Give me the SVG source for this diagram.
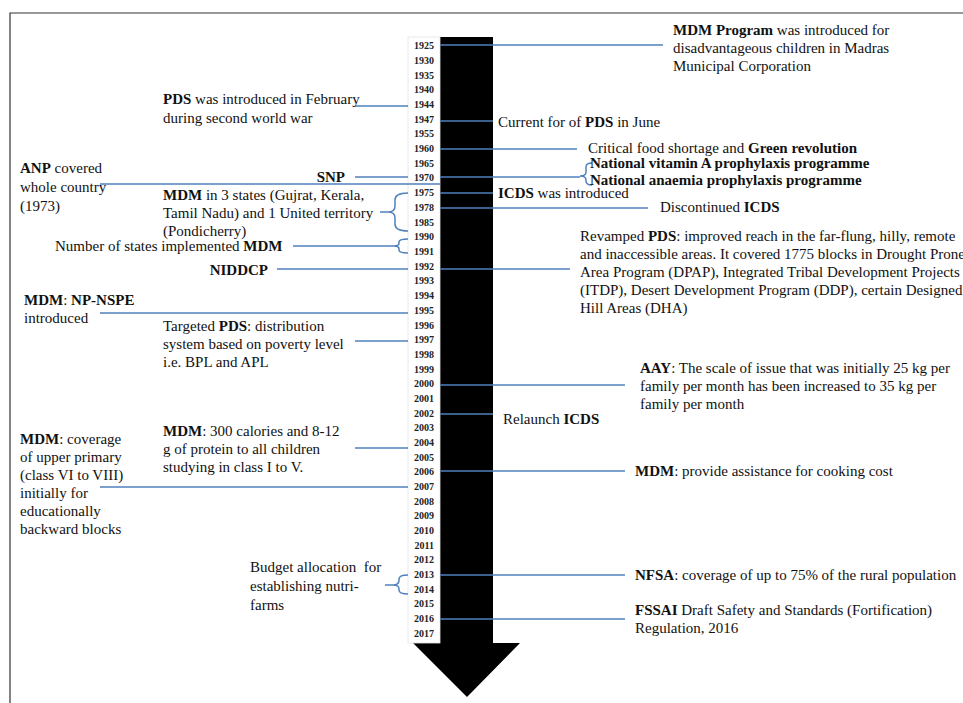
<svg xmlns="http://www.w3.org/2000/svg" width="963" height="703" viewBox="0 0 963 703">
<style>
text{font-family:"Liberation Serif","Times New Roman",serif;font-size:15px;fill:#111}
.b{font-weight:bold}
.yr{font-size:10px;font-weight:bold;text-anchor:end;fill:#222}
.c{stroke:#4f81bd;stroke-width:1.5;fill:none}
</style>
<rect width="963" height="703" fill="#fff"/>
<path d="M10,703 V13 H963" fill="none" stroke="#333" stroke-width="1.2"/>
<g id="arrow">
<polygon points="440,37 493,37 493,643 520,643 467,697 413,643 440,643" fill="#000"/>
<rect x="408" y="37" width="32" height="606" fill="#fff" stroke="#e4e4e4" stroke-width="0.8"/>
</g>
<g id="years">
<text class="yr" x="434" y="49">1925</text>
<text class="yr" x="434" y="64">1930</text>
<text class="yr" x="434" y="79">1935</text>
<text class="yr" x="434" y="93">1940</text>
<text class="yr" x="434" y="108">1944</text>
<text class="yr" x="434" y="123">1947</text>
<text class="yr" x="434" y="137">1955</text>
<text class="yr" x="434" y="152">1960</text>
<text class="yr" x="434" y="167">1965</text>
<text class="yr" x="434" y="181">1970</text>
<text class="yr" x="434" y="196">1975</text>
<text class="yr" x="434" y="211">1978</text>
<text class="yr" x="434" y="226">1985</text>
<text class="yr" x="434" y="240">1990</text>
<text class="yr" x="434" y="255">1991</text>
<text class="yr" x="434" y="270">1992</text>
<text class="yr" x="434" y="284">1993</text>
<text class="yr" x="434" y="299">1994</text>
<text class="yr" x="434" y="314">1995</text>
<text class="yr" x="434" y="329">1996</text>
<text class="yr" x="434" y="343">1997</text>
<text class="yr" x="434" y="358">1998</text>
<text class="yr" x="434" y="373">1999</text>
<text class="yr" x="434" y="387">2000</text>
<text class="yr" x="434" y="402">2001</text>
<text class="yr" x="434" y="417">2002</text>
<text class="yr" x="434" y="431">2003</text>
<text class="yr" x="434" y="446">2004</text>
<text class="yr" x="434" y="461">2005</text>
<text class="yr" x="434" y="475">2006</text>
<text class="yr" x="434" y="490">2007</text>
<text class="yr" x="434" y="505">2008</text>
<text class="yr" x="434" y="519">2009</text>
<text class="yr" x="434" y="534">2010</text>
<text class="yr" x="434" y="549">2011</text>
<text class="yr" x="434" y="563">2012</text>
<text class="yr" x="434" y="578">2013</text>
<text class="yr" x="434" y="593">2014</text>
<text class="yr" x="434" y="607">2015</text>
<text class="yr" x="434" y="622">2016</text>
<text class="yr" x="434" y="637">2017</text>
</g>
<g id="connectors">
<line class="c" x1="440" y1="45" x2="663" y2="45"/>
<line class="c" x1="355" y1="106" x2="408" y2="106"/>
<line class="c" x1="440" y1="121" x2="493" y2="121"/>
<line class="c" x1="440" y1="149" x2="577" y2="149"/>
<line class="c" x1="355" y1="177" x2="408" y2="177"/>
<line class="c" x1="440" y1="177" x2="580" y2="177"/>
<path class="c" d="M592,163 Q586,163 586,167 L586,172 Q586,176 580,176 Q586,176 586,180 L586,181 Q586,185 592,185"/>
<line class="c" x1="100" y1="184" x2="440" y2="184"/>
<line class="c" x1="440" y1="193" x2="493" y2="193"/>
<line class="c" x1="440" y1="208" x2="648" y2="208"/>
<line class="c" x1="380" y1="212" x2="388" y2="212"/>
<path class="c" d="M408,193 Q395,193 395,200 L395,206 Q395,212 388,212 Q395,212 395,218 L395,224 Q395,231 408,231"/>
<line class="c" x1="293" y1="246" x2="394" y2="246"/>
<path class="c" d="M408,239 Q399,239 399,242 L399,243 Q399,246 394,246 Q399,246 399,249 L399,250 Q399,253 408,253"/>
<line class="c" x1="277" y1="269" x2="408" y2="269"/>
<line class="c" x1="440" y1="269" x2="570" y2="269"/>
<line class="c" x1="100" y1="313" x2="408" y2="313"/>
<line class="c" x1="355" y1="341" x2="408" y2="341"/>
<line class="c" x1="440" y1="385" x2="625" y2="385"/>
<line class="c" x1="440" y1="414" x2="493" y2="414"/>
<line class="c" x1="355" y1="448" x2="408" y2="448"/>
<line class="c" x1="440" y1="471" x2="625" y2="471"/>
<line class="c" x1="100" y1="487" x2="408" y2="487"/>
<line class="c" x1="385" y1="585" x2="393" y2="585"/>
<path class="c" d="M408,575 Q399,575 399,579 L399,580 Q399,585 393,585 Q399,585 399,589 L399,590 Q399,594 408,594"/>
<line class="c" x1="440" y1="575" x2="625" y2="575"/>
<line class="c" x1="440" y1="619" x2="625" y2="619"/>
</g>
<g id="mdm-program"><text x="673" y="35"><tspan class="b">MDM Program</tspan> was introduced for</text><text x="673" y="53">disadvantageous children in Madras</text><text x="673" y="71">Municipal Corporation</text></g>
<g id="pds-feb"><text x="163" y="104"><tspan class="b">PDS</tspan> was introduced in February</text><text x="163" y="123">during second world war</text></g>
<g id="pds-june"><text x="498" y="127">Current for of <tspan class="b">PDS</tspan> in June</text></g>
<g id="green"><text x="588" y="153">Critical food shortage and <tspan class="b">Green revolution</tspan></text></g>
<g id="vitamin"><text class="b" x="590" y="168">National vitamin A prophylaxis programme</text><text class="b" x="590" y="185">National anaemia prophylaxis programme</text></g>
<g id="snp"><text class="b" x="345" y="182" text-anchor="end">SNP</text></g>
<g id="anp"><text x="20" y="173"><tspan class="b">ANP</tspan> covered</text><text x="20" y="192">whole country</text><text x="20" y="211">(1973)</text></g>
<g id="mdm3"><text x="163" y="200"><tspan class="b">MDM</tspan> in 3 states (Gujrat, Kerala,</text><text x="163" y="218">Tamil Nadu) and 1 United territory</text><text x="163" y="236">(Pondicherry)</text></g>
<g id="icds-intro"><text x="498" y="198"><tspan class="b">ICDS</tspan> was introduced</text></g>
<g id="icds-disc"><text x="660" y="212">Discontinued <tspan class="b">ICDS</tspan></text></g>
<g id="num-states"><text x="55" y="251">Number of states implemented <tspan class="b">MDM</tspan></text></g>
<g id="niddcp"><text class="b" x="268" y="275" text-anchor="end">NIDDCP</text></g>
<g id="revamped"><text x="580" y="241">Revamped <tspan class="b">PDS</tspan>: improved reach in the far-flung, hilly, remote</text><text x="580" y="259">and inaccessible areas. It covered 1775 blocks in Drought Prone</text><text x="580" y="277">Area Program (DPAP), Integrated Tribal Development Projects</text><text x="580" y="295">(ITDP), Desert Development Program (DDP), certain Designed</text><text x="580" y="313">Hill Areas (DHA)</text></g>
<g id="npnspe"><text x="24" y="305"><tspan class="b">MDM</tspan>: <tspan class="b">NP-NSPE</tspan></text><text x="24" y="323">introduced</text></g>
<g id="tpds"><text x="163" y="331">Targeted <tspan class="b">PDS</tspan>: distribution</text><text x="163" y="349">system based on poverty level</text><text x="163" y="367">i.e. BPL and APL</text></g>
<g id="aay"><text x="640" y="373"><tspan class="b">AAY</tspan>: The scale of issue that was initially 25 kg per</text><text x="640" y="391">family per month has been increased to 35 kg per</text><text x="640" y="409">family per month</text></g>
<g id="relaunch"><text x="503" y="424">Relaunch <tspan class="b">ICDS</tspan></text></g>
<g id="mdm300"><text x="163" y="436"><tspan class="b">MDM</tspan>: 300 calories and 8-12</text><text x="163" y="454">g of protein to all children</text><text x="163" y="472">studying in class I to V.</text></g>
<g id="mdm-upper"><text x="20" y="444"><tspan class="b">MDM</tspan>: coverage</text><text x="20" y="462">of upper primary</text><text x="20" y="480">(class VI to VIII)</text><text x="20" y="498">initially for</text><text x="20" y="516">educationally</text><text x="20" y="534">backward blocks</text></g>
<g id="mdm-cook"><text x="635" y="476"><tspan class="b">MDM</tspan>: provide assistance for cooking cost</text></g>
<g id="budget"><text x="250" y="572" style="white-space:pre">Budget allocation  for</text><text x="250" y="591">establishing nutri-</text><text x="250" y="610">farms</text></g>
<g id="nfsa"><text x="635" y="580"><tspan class="b">NFSA</tspan>: coverage of up to 75% of the rural population</text></g>
<g id="fssai"><text x="635" y="615"><tspan class="b">FSSAI</tspan> Draft Safety and Standards (Fortification)</text><text x="635" y="633">Regulation, 2016</text></g>
</svg>
